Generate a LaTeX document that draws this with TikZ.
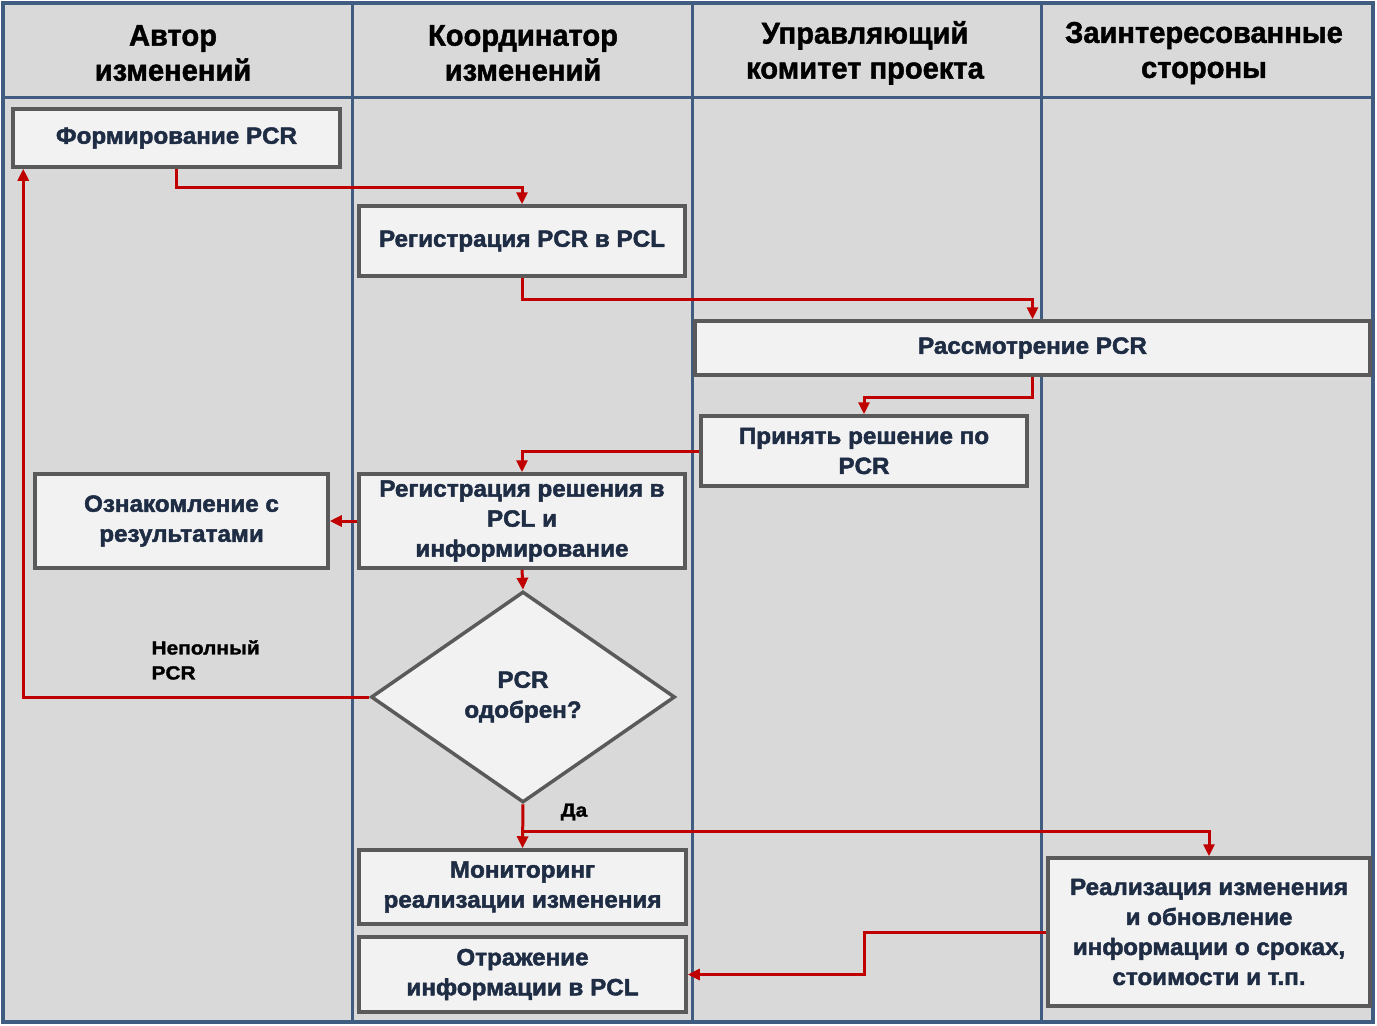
\documentclass[tikz,border=0pt]{standalone}
\usepackage{fontspec}
\setmainfont{Liberation Sans}
\newfontfamily\headfont{Liberation Sans}[BoldFeatures={FakeBold=1.5, FakeStretch=0.97}]
\newfontfamily\boxfont{Liberation Sans}[BoldFeatures={FakeBold=2, FakeStretch=1.03}]
\newfontfamily\notefont{Liberation Sans}[BoldFeatures={FakeBold=1.5, FakeStretch=1.1}]
\usetikzlibrary{arrows.meta,shapes.geometric}
\definecolor{lane gray}{RGB}{217,217,217}
\definecolor{lane blue}{RGB}{64,92,128}
\definecolor{box fill}{RGB}{242,242,243}
\definecolor{box line}{RGB}{90,90,90}
\definecolor{flow red}{RGB}{192,0,0}
\definecolor{box text}{RGB}{30,44,68}

\begin{document}
\begin{tikzpicture}[x=1pt,y=-1pt,
		head/.style={font=\headfont\fontsize{30}{35}\selectfont\bfseries, align=center, text=black},
		process/.style={draw=box line, fill=box fill, line width=3.5pt, inner sep=0pt,
			font=\boxfont\fontsize{23.5}{30}\selectfont\bfseries, text=box text, align=center},
		decision/.style={process, diamond, aspect=1.44},
		flow/.style={draw=flow red, line width=3pt, -{Triangle[length=12pt,width=11pt]}},
		note/.style={font=\notefont\fontsize{19}{25}\selectfont\bfseries, align=left, text=black}]
	\useasboundingbox (0,0) rectangle (1377,1026);
	% lanes
	\fill[white] (0,0) rectangle (1377,1026);
	\fill[lane gray] (3,3) rectangle (1373,1022);
	\draw[draw=lane blue, line width=3pt]
		(3,97) -- (1373,97)
		(352,3) -- (352,1022)
		(692,3) -- (692,1022)
		(1041,3) -- (1041,1022);
	\draw[draw=lane blue, line width=4pt] (3,3) rectangle (1373,1022);
	% headers
	\node[head] (author) at (173,53) {Автор\\изменений};
	\node[head] (coord) at (523,53) {Координатор\\изменений};
	\node[head] (board) at (865,53) {Управляющий\\комитет проекта};
	\node[head] (stake) at (1204,53) {Заинтересованные\\стороны};
	% steps
	\node[process, minimum width=327, minimum height=58] (form) at (176.5,138) {Формирование PCR};
	\node[process, minimum width=326, minimum height=70] (reg) at (522,241) {Регистрация PCR в PCL};
	\node[process, minimum width=675, minimum height=54] (review) at (1032.5,348) {Рассмотрение PCR};
	\node[process, minimum width=326, minimum height=70] (decide) at (864,451) {Принять решение по\\PCR};
	\node[process, minimum width=326, minimum height=94] (regdec) at (522,521) {Регистрация решения в\\PCL и\\информирование};
	\node[process, minimum width=293, minimum height=94] (learn) at (181.5,521) {Ознакомление с\\результатами};
	\node[decision, minimum width=304, minimum height=211] (approved) at (523,697) {PCR\\одобрен?};
	\node[process, minimum width=327, minimum height=74] (monitor) at (522.5,887) {Мониторинг\\реализации изменения};
	\node[process, minimum width=327, minimum height=75] (reflect) at (522.5,974.5) {Отражение\\информации в PCL};
	\node[process, minimum width=322, minimum height=148] (implement) at (1209,932) {Реализация изменения\\и обновление\\информации о сроках,\\стоимости и т.п.};
	% connectors
	\draw[flow] (form.south) -- ++(0,19) -| (reg.north);
	\draw[flow] (reg.south) -- ++(0,22) -| (review.north);
	\draw[flow] (review.south) -- ++(0,21) -| (decide.north);
	\draw[flow] (decide.west) -| (regdec.north);
	\draw[flow] (regdec.west) -- (learn.east);
	\draw[flow] (regdec.south) -- (approved.north);
	\draw[flow] (approved.west) -| ([xshift=12pt]form.south west);
	\draw[flow] (approved.south) -- (monitor.north);
	\path (approved.south) ++(0,27) coordinate (split);
	\draw[flow] (split) -| (implement.north);
	\draw[flow] (implement.west) -- ++(-182,0) |- (reflect.east);
	% labels
	\node[note, anchor=west] (partial) at (148,660) {Неполный\\PCR};
	\node[note] (yes) at (574,812) {Да};
\end{tikzpicture}
\end{document}
